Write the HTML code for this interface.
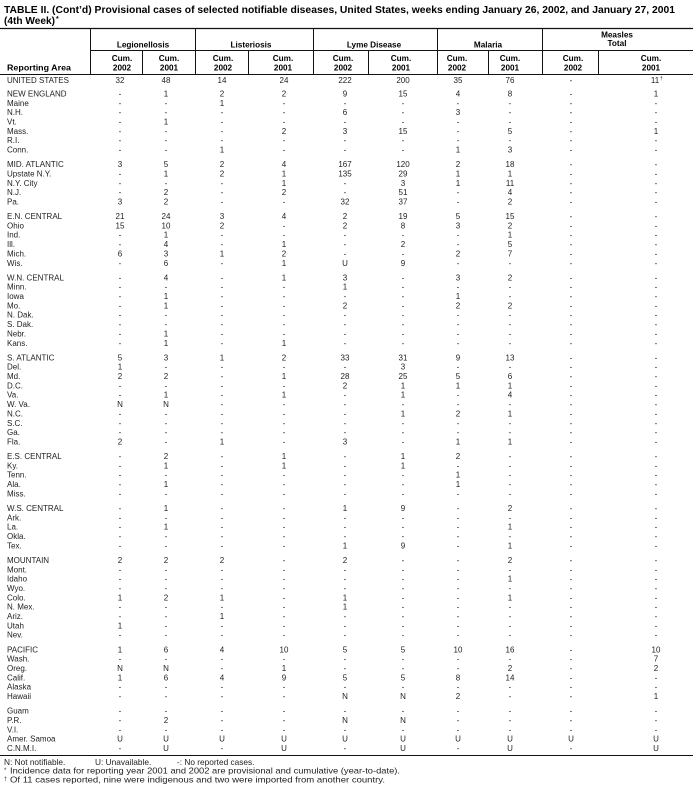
<!DOCTYPE html>
<html><head><meta charset="utf-8"><style>
html,body{margin:0;padding:0;background:#fff;}
svg{display:block;}
text{font-family:"Liberation Sans",Arial,sans-serif;font-size:8px;fill:#1e1e1e;}
.v{text-anchor:middle;}
.u{font-size:8px;}
.b{font-weight:bold;fill:#000;}
.h{font-weight:bold;fill:#000;font-size:8.2px;text-anchor:middle;}
.f{font-size:8.3px;}
line{stroke:#111;stroke-width:1;}
</style></head><body>
<svg width="693" height="791" viewBox="0 0 693 791" xmlns="http://www.w3.org/2000/svg">
<text class="b" x="4" y="13" style="font-size:10px" textLength="671" lengthAdjust="spacingAndGlyphs">TABLE II. (Cont’d) Provisional cases of selected notifiable diseases, United States, weeks ending January 26, 2002, and January 27, 2001</text>
<text class="b" x="4" y="24" style="font-size:10px" textLength="51" lengthAdjust="spacingAndGlyphs">(4th Week)</text>
<text class="b" x="56" y="21" style="font-size:7px">*</text>

<line x1="0" y1="28.5" x2="693" y2="28.5" style="stroke-width:1.2"/>
<line x1="90" y1="50.5" x2="693" y2="50.5"/>
<line x1="0" y1="74.5" x2="693" y2="74.5"/>
<line x1="90.5" y1="28" x2="90.5" y2="74"/>
<line x1="195.5" y1="28" x2="195.5" y2="74"/>
<line x1="313.5" y1="28" x2="313.5" y2="74"/>
<line x1="437.5" y1="28" x2="437.5" y2="74"/>
<line x1="542.5" y1="28" x2="542.5" y2="74"/>
<line x1="142.5" y1="50" x2="142.5" y2="74"/>
<line x1="248.5" y1="50" x2="248.5" y2="74"/>
<line x1="368.5" y1="50" x2="368.5" y2="74"/>
<line x1="488.5" y1="50" x2="488.5" y2="74"/>
<line x1="598.5" y1="50" x2="598.5" y2="74"/>

<text class="h" x="143" y="47.5">Legionellosis</text>
<text class="h" x="251" y="47.5">Listeriosis</text>
<text class="h" x="374" y="47.5">Lyme Disease</text>
<text class="h" x="488" y="47.5">Malaria</text>
<text class="h" x="617" y="37.5">Measles</text>
<text class="h" x="617" y="46">Total</text>
<text class="h" y="61"><tspan x="122">Cum.</tspan><tspan x="169">Cum.</tspan><tspan x="223">Cum.</tspan><tspan x="283">Cum.</tspan><tspan x="343">Cum.</tspan><tspan x="401">Cum.</tspan><tspan x="457">Cum.</tspan><tspan x="510">Cum.</tspan><tspan x="573">Cum.</tspan><tspan x="651">Cum.</tspan></text>
<text class="h" y="70.3"><tspan x="122">2002</tspan><tspan x="169">2001</tspan><tspan x="223">2002</tspan><tspan x="283">2001</tspan><tspan x="343">2002</tspan><tspan x="401">2001</tspan><tspan x="457">2002</tspan><tspan x="510">2001</tspan><tspan x="573">2002</tspan><tspan x="651">2001</tspan></text>
<text class="b" x="7" y="70.5" style="font-size:8.5px" textLength="64" lengthAdjust="spacingAndGlyphs">Reporting Area</text>

<!-- UNITED STATES -->
<text class="u" x="7" y="82.9">UNITED STATES</text>
<text class="v" y="82.9"><tspan x="120">32</tspan><tspan x="166">48</tspan><tspan x="222">14</tspan><tspan x="284">24</tspan><tspan x="345">222</tspan><tspan x="403">200</tspan><tspan x="458">35</tspan><tspan x="510">76</tspan><tspan x="571">-</tspan><tspan x="655">11</tspan></text>
<text x="660" y="80" style="font-size:5px">†</text>

<!-- NEW ENGLAND -->
<text class="u" x="7" y="96.4">NEW ENGLAND</text>
<text class="v" y="96.4"><tspan x="120">-</tspan><tspan x="166">1</tspan><tspan x="222">2</tspan><tspan x="284">2</tspan><tspan x="345">9</tspan><tspan x="403">15</tspan><tspan x="458">4</tspan><tspan x="510">8</tspan><tspan x="571">-</tspan><tspan x="656">1</tspan></text>
<text x="7" y="105.75">Maine</text>
<text class="v" y="105.75"><tspan x="120">-</tspan><tspan x="166">-</tspan><tspan x="222">1</tspan><tspan x="284">-</tspan><tspan x="345">-</tspan><tspan x="403">-</tspan><tspan x="458">-</tspan><tspan x="510">-</tspan><tspan x="571">-</tspan><tspan x="656">-</tspan></text>
<text x="7" y="115.1">N.H.</text>
<text class="v" y="115.1"><tspan x="120">-</tspan><tspan x="166">-</tspan><tspan x="222">-</tspan><tspan x="284">-</tspan><tspan x="345">6</tspan><tspan x="403">-</tspan><tspan x="458">3</tspan><tspan x="510">-</tspan><tspan x="571">-</tspan><tspan x="656">-</tspan></text>
<text x="7" y="124.45">Vt.</text>
<text class="v" y="124.45"><tspan x="120">-</tspan><tspan x="166">1</tspan><tspan x="222">-</tspan><tspan x="284">-</tspan><tspan x="345">-</tspan><tspan x="403">-</tspan><tspan x="458">-</tspan><tspan x="510">-</tspan><tspan x="571">-</tspan><tspan x="656">-</tspan></text>
<text x="7" y="133.8">Mass.</text>
<text class="v" y="133.8"><tspan x="120">-</tspan><tspan x="166">-</tspan><tspan x="222">-</tspan><tspan x="284">2</tspan><tspan x="345">3</tspan><tspan x="403">15</tspan><tspan x="458">-</tspan><tspan x="510">5</tspan><tspan x="571">-</tspan><tspan x="656">1</tspan></text>
<text x="7" y="143.15">R.I.</text>
<text class="v" y="143.15"><tspan x="120">-</tspan><tspan x="166">-</tspan><tspan x="222">-</tspan><tspan x="284">-</tspan><tspan x="345">-</tspan><tspan x="403">-</tspan><tspan x="458">-</tspan><tspan x="510">-</tspan><tspan x="571">-</tspan><tspan x="656">-</tspan></text>
<text x="7" y="152.5">Conn.</text>
<text class="v" y="152.5"><tspan x="120">-</tspan><tspan x="166">-</tspan><tspan x="222">1</tspan><tspan x="284">-</tspan><tspan x="345">-</tspan><tspan x="403">-</tspan><tspan x="458">1</tspan><tspan x="510">3</tspan><tspan x="571">-</tspan><tspan x="656">-</tspan></text>

<!-- MID. ATLANTIC -->
<text class="u" x="7" y="167.05">MID. ATLANTIC</text>
<text class="v" y="167.05"><tspan x="120">3</tspan><tspan x="166">5</tspan><tspan x="222">2</tspan><tspan x="284">4</tspan><tspan x="345">167</tspan><tspan x="403">120</tspan><tspan x="458">2</tspan><tspan x="510">18</tspan><tspan x="571">-</tspan><tspan x="656">-</tspan></text>
<text x="7" y="176.4">Upstate N.Y.</text>
<text class="v" y="176.4"><tspan x="120">-</tspan><tspan x="166">1</tspan><tspan x="222">2</tspan><tspan x="284">1</tspan><tspan x="345">135</tspan><tspan x="403">29</tspan><tspan x="458">1</tspan><tspan x="510">1</tspan><tspan x="571">-</tspan><tspan x="656">-</tspan></text>
<text x="7" y="185.75">N.Y. City</text>
<text class="v" y="185.75"><tspan x="120">-</tspan><tspan x="166">-</tspan><tspan x="222">-</tspan><tspan x="284">1</tspan><tspan x="345">-</tspan><tspan x="403">3</tspan><tspan x="458">1</tspan><tspan x="510">11</tspan><tspan x="571">-</tspan><tspan x="656">-</tspan></text>
<text x="7" y="195.1">N.J.</text>
<text class="v" y="195.1"><tspan x="120">-</tspan><tspan x="166">2</tspan><tspan x="222">-</tspan><tspan x="284">2</tspan><tspan x="345">-</tspan><tspan x="403">51</tspan><tspan x="458">-</tspan><tspan x="510">4</tspan><tspan x="571">-</tspan><tspan x="656">-</tspan></text>
<text x="7" y="204.45">Pa.</text>
<text class="v" y="204.45"><tspan x="120">3</tspan><tspan x="166">2</tspan><tspan x="222">-</tspan><tspan x="284">-</tspan><tspan x="345">32</tspan><tspan x="403">37</tspan><tspan x="458">-</tspan><tspan x="510">2</tspan><tspan x="571">-</tspan><tspan x="656">-</tspan></text>

<!-- E.N. CENTRAL -->
<text class="u" x="7" y="219">E.N. CENTRAL</text>
<text class="v" y="219"><tspan x="120">21</tspan><tspan x="166">24</tspan><tspan x="222">3</tspan><tspan x="284">4</tspan><tspan x="345">2</tspan><tspan x="403">19</tspan><tspan x="458">5</tspan><tspan x="510">15</tspan><tspan x="571">-</tspan><tspan x="656">-</tspan></text>
<text x="7" y="228.35">Ohio</text>
<text class="v" y="228.35"><tspan x="120">15</tspan><tspan x="166">10</tspan><tspan x="222">2</tspan><tspan x="284">-</tspan><tspan x="345">2</tspan><tspan x="403">8</tspan><tspan x="458">3</tspan><tspan x="510">2</tspan><tspan x="571">-</tspan><tspan x="656">-</tspan></text>
<text x="7" y="237.7">Ind.</text>
<text class="v" y="237.7"><tspan x="120">-</tspan><tspan x="166">1</tspan><tspan x="222">-</tspan><tspan x="284">-</tspan><tspan x="345">-</tspan><tspan x="403">-</tspan><tspan x="458">-</tspan><tspan x="510">1</tspan><tspan x="571">-</tspan><tspan x="656">-</tspan></text>
<text x="7" y="247.05">Ill.</text>
<text class="v" y="247.05"><tspan x="120">-</tspan><tspan x="166">4</tspan><tspan x="222">-</tspan><tspan x="284">1</tspan><tspan x="345">-</tspan><tspan x="403">2</tspan><tspan x="458">-</tspan><tspan x="510">5</tspan><tspan x="571">-</tspan><tspan x="656">-</tspan></text>
<text x="7" y="256.4">Mich.</text>
<text class="v" y="256.4"><tspan x="120">6</tspan><tspan x="166">3</tspan><tspan x="222">1</tspan><tspan x="284">2</tspan><tspan x="345">-</tspan><tspan x="403">-</tspan><tspan x="458">2</tspan><tspan x="510">7</tspan><tspan x="571">-</tspan><tspan x="656">-</tspan></text>
<text x="7" y="265.75">Wis.</text>
<text class="v" y="265.75"><tspan x="120">-</tspan><tspan x="166">6</tspan><tspan x="222">-</tspan><tspan x="284">1</tspan><tspan x="345">U</tspan><tspan x="403">9</tspan><tspan x="458">-</tspan><tspan x="510">-</tspan><tspan x="571">-</tspan><tspan x="656">-</tspan></text>

<!-- W.N. CENTRAL -->
<text class="u" x="7" y="280.3">W.N. CENTRAL</text>
<text class="v" y="280.3"><tspan x="120">-</tspan><tspan x="166">4</tspan><tspan x="222">-</tspan><tspan x="284">1</tspan><tspan x="345">3</tspan><tspan x="403">-</tspan><tspan x="458">3</tspan><tspan x="510">2</tspan><tspan x="571">-</tspan><tspan x="656">-</tspan></text>
<text x="7" y="289.65">Minn.</text>
<text class="v" y="289.65"><tspan x="120">-</tspan><tspan x="166">-</tspan><tspan x="222">-</tspan><tspan x="284">-</tspan><tspan x="345">1</tspan><tspan x="403">-</tspan><tspan x="458">-</tspan><tspan x="510">-</tspan><tspan x="571">-</tspan><tspan x="656">-</tspan></text>
<text x="7" y="299">Iowa</text>
<text class="v" y="299"><tspan x="120">-</tspan><tspan x="166">1</tspan><tspan x="222">-</tspan><tspan x="284">-</tspan><tspan x="345">-</tspan><tspan x="403">-</tspan><tspan x="458">1</tspan><tspan x="510">-</tspan><tspan x="571">-</tspan><tspan x="656">-</tspan></text>
<text x="7" y="308.35">Mo.</text>
<text class="v" y="308.35"><tspan x="120">-</tspan><tspan x="166">1</tspan><tspan x="222">-</tspan><tspan x="284">-</tspan><tspan x="345">2</tspan><tspan x="403">-</tspan><tspan x="458">2</tspan><tspan x="510">2</tspan><tspan x="571">-</tspan><tspan x="656">-</tspan></text>
<text x="7" y="317.7">N. Dak.</text>
<text class="v" y="317.7"><tspan x="120">-</tspan><tspan x="166">-</tspan><tspan x="222">-</tspan><tspan x="284">-</tspan><tspan x="345">-</tspan><tspan x="403">-</tspan><tspan x="458">-</tspan><tspan x="510">-</tspan><tspan x="571">-</tspan><tspan x="656">-</tspan></text>
<text x="7" y="327.05">S. Dak.</text>
<text class="v" y="327.05"><tspan x="120">-</tspan><tspan x="166">-</tspan><tspan x="222">-</tspan><tspan x="284">-</tspan><tspan x="345">-</tspan><tspan x="403">-</tspan><tspan x="458">-</tspan><tspan x="510">-</tspan><tspan x="571">-</tspan><tspan x="656">-</tspan></text>
<text x="7" y="336.4">Nebr.</text>
<text class="v" y="336.4"><tspan x="120">-</tspan><tspan x="166">1</tspan><tspan x="222">-</tspan><tspan x="284">-</tspan><tspan x="345">-</tspan><tspan x="403">-</tspan><tspan x="458">-</tspan><tspan x="510">-</tspan><tspan x="571">-</tspan><tspan x="656">-</tspan></text>
<text x="7" y="345.75">Kans.</text>
<text class="v" y="345.75"><tspan x="120">-</tspan><tspan x="166">1</tspan><tspan x="222">-</tspan><tspan x="284">1</tspan><tspan x="345">-</tspan><tspan x="403">-</tspan><tspan x="458">-</tspan><tspan x="510">-</tspan><tspan x="571">-</tspan><tspan x="656">-</tspan></text>

<!-- S. ATLANTIC -->
<text class="u" x="7" y="360.3">S. ATLANTIC</text>
<text class="v" y="360.3"><tspan x="120">5</tspan><tspan x="166">3</tspan><tspan x="222">1</tspan><tspan x="284">2</tspan><tspan x="345">33</tspan><tspan x="403">31</tspan><tspan x="458">9</tspan><tspan x="510">13</tspan><tspan x="571">-</tspan><tspan x="656">-</tspan></text>
<text x="7" y="369.65">Del.</text>
<text class="v" y="369.65"><tspan x="120">1</tspan><tspan x="166">-</tspan><tspan x="222">-</tspan><tspan x="284">-</tspan><tspan x="345">-</tspan><tspan x="403">3</tspan><tspan x="458">-</tspan><tspan x="510">-</tspan><tspan x="571">-</tspan><tspan x="656">-</tspan></text>
<text x="7" y="379">Md.</text>
<text class="v" y="379"><tspan x="120">2</tspan><tspan x="166">2</tspan><tspan x="222">-</tspan><tspan x="284">1</tspan><tspan x="345">28</tspan><tspan x="403">25</tspan><tspan x="458">5</tspan><tspan x="510">6</tspan><tspan x="571">-</tspan><tspan x="656">-</tspan></text>
<text x="7" y="388.35">D.C.</text>
<text class="v" y="388.35"><tspan x="120">-</tspan><tspan x="166">-</tspan><tspan x="222">-</tspan><tspan x="284">-</tspan><tspan x="345">2</tspan><tspan x="403">1</tspan><tspan x="458">1</tspan><tspan x="510">1</tspan><tspan x="571">-</tspan><tspan x="656">-</tspan></text>
<text x="7" y="397.7">Va.</text>
<text class="v" y="397.7"><tspan x="120">-</tspan><tspan x="166">1</tspan><tspan x="222">-</tspan><tspan x="284">1</tspan><tspan x="345">-</tspan><tspan x="403">1</tspan><tspan x="458">-</tspan><tspan x="510">4</tspan><tspan x="571">-</tspan><tspan x="656">-</tspan></text>
<text x="7" y="407.05">W. Va.</text>
<text class="v" y="407.05"><tspan x="120">N</tspan><tspan x="166">N</tspan><tspan x="222">-</tspan><tspan x="284">-</tspan><tspan x="345">-</tspan><tspan x="403">-</tspan><tspan x="458">-</tspan><tspan x="510">-</tspan><tspan x="571">-</tspan><tspan x="656">-</tspan></text>
<text x="7" y="416.4">N.C.</text>
<text class="v" y="416.4"><tspan x="120">-</tspan><tspan x="166">-</tspan><tspan x="222">-</tspan><tspan x="284">-</tspan><tspan x="345">-</tspan><tspan x="403">1</tspan><tspan x="458">2</tspan><tspan x="510">1</tspan><tspan x="571">-</tspan><tspan x="656">-</tspan></text>
<text x="7" y="425.75">S.C.</text>
<text class="v" y="425.75"><tspan x="120">-</tspan><tspan x="166">-</tspan><tspan x="222">-</tspan><tspan x="284">-</tspan><tspan x="345">-</tspan><tspan x="403">-</tspan><tspan x="458">-</tspan><tspan x="510">-</tspan><tspan x="571">-</tspan><tspan x="656">-</tspan></text>
<text x="7" y="435.1">Ga.</text>
<text class="v" y="435.1"><tspan x="120">-</tspan><tspan x="166">-</tspan><tspan x="222">-</tspan><tspan x="284">-</tspan><tspan x="345">-</tspan><tspan x="403">-</tspan><tspan x="458">-</tspan><tspan x="510">-</tspan><tspan x="571">-</tspan><tspan x="656">-</tspan></text>
<text x="7" y="444.45">Fla.</text>
<text class="v" y="444.45"><tspan x="120">2</tspan><tspan x="166">-</tspan><tspan x="222">1</tspan><tspan x="284">-</tspan><tspan x="345">3</tspan><tspan x="403">-</tspan><tspan x="458">1</tspan><tspan x="510">1</tspan><tspan x="571">-</tspan><tspan x="656">-</tspan></text>

<!-- E.S. CENTRAL -->
<text class="u" x="7" y="459">E.S. CENTRAL</text>
<text class="v" y="459"><tspan x="120">-</tspan><tspan x="166">2</tspan><tspan x="222">-</tspan><tspan x="284">1</tspan><tspan x="345">-</tspan><tspan x="403">1</tspan><tspan x="458">2</tspan><tspan x="510">-</tspan><tspan x="571">-</tspan><tspan x="656">-</tspan></text>
<text x="7" y="468.35">Ky.</text>
<text class="v" y="468.35"><tspan x="120">-</tspan><tspan x="166">1</tspan><tspan x="222">-</tspan><tspan x="284">1</tspan><tspan x="345">-</tspan><tspan x="403">1</tspan><tspan x="458">-</tspan><tspan x="510">-</tspan><tspan x="571">-</tspan><tspan x="656">-</tspan></text>
<text x="7" y="477.7">Tenn.</text>
<text class="v" y="477.7"><tspan x="120">-</tspan><tspan x="166">-</tspan><tspan x="222">-</tspan><tspan x="284">-</tspan><tspan x="345">-</tspan><tspan x="403">-</tspan><tspan x="458">1</tspan><tspan x="510">-</tspan><tspan x="571">-</tspan><tspan x="656">-</tspan></text>
<text x="7" y="487.05">Ala.</text>
<text class="v" y="487.05"><tspan x="120">-</tspan><tspan x="166">1</tspan><tspan x="222">-</tspan><tspan x="284">-</tspan><tspan x="345">-</tspan><tspan x="403">-</tspan><tspan x="458">1</tspan><tspan x="510">-</tspan><tspan x="571">-</tspan><tspan x="656">-</tspan></text>
<text x="7" y="496.4">Miss.</text>
<text class="v" y="496.4"><tspan x="120">-</tspan><tspan x="166">-</tspan><tspan x="222">-</tspan><tspan x="284">-</tspan><tspan x="345">-</tspan><tspan x="403">-</tspan><tspan x="458">-</tspan><tspan x="510">-</tspan><tspan x="571">-</tspan><tspan x="656">-</tspan></text>

<!-- W.S. CENTRAL -->
<text class="u" x="7" y="510.95">W.S. CENTRAL</text>
<text class="v" y="510.95"><tspan x="120">-</tspan><tspan x="166">1</tspan><tspan x="222">-</tspan><tspan x="284">-</tspan><tspan x="345">1</tspan><tspan x="403">9</tspan><tspan x="458">-</tspan><tspan x="510">2</tspan><tspan x="571">-</tspan><tspan x="656">-</tspan></text>
<text x="7" y="520.3">Ark.</text>
<text class="v" y="520.3"><tspan x="120">-</tspan><tspan x="166">-</tspan><tspan x="222">-</tspan><tspan x="284">-</tspan><tspan x="345">-</tspan><tspan x="403">-</tspan><tspan x="458">-</tspan><tspan x="510">-</tspan><tspan x="571">-</tspan><tspan x="656">-</tspan></text>
<text x="7" y="529.65">La.</text>
<text class="v" y="529.65"><tspan x="120">-</tspan><tspan x="166">1</tspan><tspan x="222">-</tspan><tspan x="284">-</tspan><tspan x="345">-</tspan><tspan x="403">-</tspan><tspan x="458">-</tspan><tspan x="510">1</tspan><tspan x="571">-</tspan><tspan x="656">-</tspan></text>
<text x="7" y="539">Okla.</text>
<text class="v" y="539"><tspan x="120">-</tspan><tspan x="166">-</tspan><tspan x="222">-</tspan><tspan x="284">-</tspan><tspan x="345">-</tspan><tspan x="403">-</tspan><tspan x="458">-</tspan><tspan x="510">-</tspan><tspan x="571">-</tspan><tspan x="656">-</tspan></text>
<text x="7" y="548.35">Tex.</text>
<text class="v" y="548.35"><tspan x="120">-</tspan><tspan x="166">-</tspan><tspan x="222">-</tspan><tspan x="284">-</tspan><tspan x="345">1</tspan><tspan x="403">9</tspan><tspan x="458">-</tspan><tspan x="510">1</tspan><tspan x="571">-</tspan><tspan x="656">-</tspan></text>

<!-- MOUNTAIN -->
<text class="u" x="7" y="562.9">MOUNTAIN</text>
<text class="v" y="562.9"><tspan x="120">2</tspan><tspan x="166">2</tspan><tspan x="222">2</tspan><tspan x="284">-</tspan><tspan x="345">2</tspan><tspan x="403">-</tspan><tspan x="458">-</tspan><tspan x="510">2</tspan><tspan x="571">-</tspan><tspan x="656">-</tspan></text>
<text x="7" y="572.25">Mont.</text>
<text class="v" y="572.25"><tspan x="120">-</tspan><tspan x="166">-</tspan><tspan x="222">-</tspan><tspan x="284">-</tspan><tspan x="345">-</tspan><tspan x="403">-</tspan><tspan x="458">-</tspan><tspan x="510">-</tspan><tspan x="571">-</tspan><tspan x="656">-</tspan></text>
<text x="7" y="581.6">Idaho</text>
<text class="v" y="581.6"><tspan x="120">-</tspan><tspan x="166">-</tspan><tspan x="222">-</tspan><tspan x="284">-</tspan><tspan x="345">-</tspan><tspan x="403">-</tspan><tspan x="458">-</tspan><tspan x="510">1</tspan><tspan x="571">-</tspan><tspan x="656">-</tspan></text>
<text x="7" y="590.95">Wyo.</text>
<text class="v" y="590.95"><tspan x="120">-</tspan><tspan x="166">-</tspan><tspan x="222">-</tspan><tspan x="284">-</tspan><tspan x="345">-</tspan><tspan x="403">-</tspan><tspan x="458">-</tspan><tspan x="510">-</tspan><tspan x="571">-</tspan><tspan x="656">-</tspan></text>
<text x="7" y="600.3">Colo.</text>
<text class="v" y="600.3"><tspan x="120">1</tspan><tspan x="166">2</tspan><tspan x="222">1</tspan><tspan x="284">-</tspan><tspan x="345">1</tspan><tspan x="403">-</tspan><tspan x="458">-</tspan><tspan x="510">1</tspan><tspan x="571">-</tspan><tspan x="656">-</tspan></text>
<text x="7" y="609.65">N. Mex.</text>
<text class="v" y="609.65"><tspan x="120">-</tspan><tspan x="166">-</tspan><tspan x="222">-</tspan><tspan x="284">-</tspan><tspan x="345">1</tspan><tspan x="403">-</tspan><tspan x="458">-</tspan><tspan x="510">-</tspan><tspan x="571">-</tspan><tspan x="656">-</tspan></text>
<text x="7" y="619">Ariz.</text>
<text class="v" y="619"><tspan x="120">-</tspan><tspan x="166">-</tspan><tspan x="222">1</tspan><tspan x="284">-</tspan><tspan x="345">-</tspan><tspan x="403">-</tspan><tspan x="458">-</tspan><tspan x="510">-</tspan><tspan x="571">-</tspan><tspan x="656">-</tspan></text>
<text x="7" y="628.35">Utah</text>
<text class="v" y="628.35"><tspan x="120">1</tspan><tspan x="166">-</tspan><tspan x="222">-</tspan><tspan x="284">-</tspan><tspan x="345">-</tspan><tspan x="403">-</tspan><tspan x="458">-</tspan><tspan x="510">-</tspan><tspan x="571">-</tspan><tspan x="656">-</tspan></text>
<text x="7" y="637.7">Nev.</text>
<text class="v" y="637.7"><tspan x="120">-</tspan><tspan x="166">-</tspan><tspan x="222">-</tspan><tspan x="284">-</tspan><tspan x="345">-</tspan><tspan x="403">-</tspan><tspan x="458">-</tspan><tspan x="510">-</tspan><tspan x="571">-</tspan><tspan x="656">-</tspan></text>

<!-- PACIFIC -->
<text class="u" x="7" y="652.25">PACIFIC</text>
<text class="v" y="652.25"><tspan x="120">1</tspan><tspan x="166">6</tspan><tspan x="222">4</tspan><tspan x="284">10</tspan><tspan x="345">5</tspan><tspan x="403">5</tspan><tspan x="458">10</tspan><tspan x="510">16</tspan><tspan x="571">-</tspan><tspan x="656">10</tspan></text>
<text x="7" y="661.6">Wash.</text>
<text class="v" y="661.6"><tspan x="120">-</tspan><tspan x="166">-</tspan><tspan x="222">-</tspan><tspan x="284">-</tspan><tspan x="345">-</tspan><tspan x="403">-</tspan><tspan x="458">-</tspan><tspan x="510">-</tspan><tspan x="571">-</tspan><tspan x="656">7</tspan></text>
<text x="7" y="670.95">Oreg.</text>
<text class="v" y="670.95"><tspan x="120">N</tspan><tspan x="166">N</tspan><tspan x="222">-</tspan><tspan x="284">1</tspan><tspan x="345">-</tspan><tspan x="403">-</tspan><tspan x="458">-</tspan><tspan x="510">2</tspan><tspan x="571">-</tspan><tspan x="656">2</tspan></text>
<text x="7" y="680.3">Calif.</text>
<text class="v" y="680.3"><tspan x="120">1</tspan><tspan x="166">6</tspan><tspan x="222">4</tspan><tspan x="284">9</tspan><tspan x="345">5</tspan><tspan x="403">5</tspan><tspan x="458">8</tspan><tspan x="510">14</tspan><tspan x="571">-</tspan><tspan x="656">-</tspan></text>
<text x="7" y="689.65">Alaska</text>
<text class="v" y="689.65"><tspan x="120">-</tspan><tspan x="166">-</tspan><tspan x="222">-</tspan><tspan x="284">-</tspan><tspan x="345">-</tspan><tspan x="403">-</tspan><tspan x="458">-</tspan><tspan x="510">-</tspan><tspan x="571">-</tspan><tspan x="656">-</tspan></text>
<text x="7" y="699">Hawaii</text>
<text class="v" y="699"><tspan x="120">-</tspan><tspan x="166">-</tspan><tspan x="222">-</tspan><tspan x="284">-</tspan><tspan x="345">N</tspan><tspan x="403">N</tspan><tspan x="458">2</tspan><tspan x="510">-</tspan><tspan x="571">-</tspan><tspan x="656">1</tspan></text>

<!-- Territories -->
<text x="7" y="713.55">Guam</text>
<text class="v" y="713.55"><tspan x="120">-</tspan><tspan x="166">-</tspan><tspan x="222">-</tspan><tspan x="284">-</tspan><tspan x="345">-</tspan><tspan x="403">-</tspan><tspan x="458">-</tspan><tspan x="510">-</tspan><tspan x="571">-</tspan><tspan x="656">-</tspan></text>
<text x="7" y="722.9">P.R.</text>
<text class="v" y="722.9"><tspan x="120">-</tspan><tspan x="166">2</tspan><tspan x="222">-</tspan><tspan x="284">-</tspan><tspan x="345">N</tspan><tspan x="403">N</tspan><tspan x="458">-</tspan><tspan x="510">-</tspan><tspan x="571">-</tspan><tspan x="656">-</tspan></text>
<text x="7" y="732.25">V.I.</text>
<text class="v" y="732.25"><tspan x="120">-</tspan><tspan x="166">-</tspan><tspan x="222">-</tspan><tspan x="284">-</tspan><tspan x="345">-</tspan><tspan x="403">-</tspan><tspan x="458">-</tspan><tspan x="510">-</tspan><tspan x="571">-</tspan><tspan x="656">-</tspan></text>
<text x="7" y="741.6">Amer. Samoa</text>
<text class="v" y="741.6"><tspan x="120">U</tspan><tspan x="166">U</tspan><tspan x="222">U</tspan><tspan x="284">U</tspan><tspan x="345">U</tspan><tspan x="403">U</tspan><tspan x="458">U</tspan><tspan x="510">U</tspan><tspan x="571">U</tspan><tspan x="656">U</tspan></text>
<text x="7" y="750.95">C.N.M.I.</text>
<text class="v" y="750.95"><tspan x="120">-</tspan><tspan x="166">U</tspan><tspan x="222">-</tspan><tspan x="284">U</tspan><tspan x="345">-</tspan><tspan x="403">U</tspan><tspan x="458">-</tspan><tspan x="510">U</tspan><tspan x="571">-</tspan><tspan x="656">U</tspan></text>

<line x1="0" y1="755.5" x2="693" y2="755.5"/>

<text class="f" x="4" y="765">N: Not notifiable.</text>
<text class="f" x="95" y="765">U: Unavailable.</text>
<text class="f" x="177" y="765">-: No reported cases.</text>
<text x="4" y="772" style="font-size:6px">*</text>
<text class="f" x="10" y="773.5" textLength="390" lengthAdjust="spacingAndGlyphs">Incidence data for reporting year 2001 and 2002 are provisional and cumulative (year-to-date).</text>
<text x="4" y="780.5" style="font-size:5.5px">†</text>
<text class="f" x="10" y="782.3" textLength="375" lengthAdjust="spacingAndGlyphs">Of 11 cases reported, nine were indigenous and two were imported from another country.</text>
</svg>
</body></html>
